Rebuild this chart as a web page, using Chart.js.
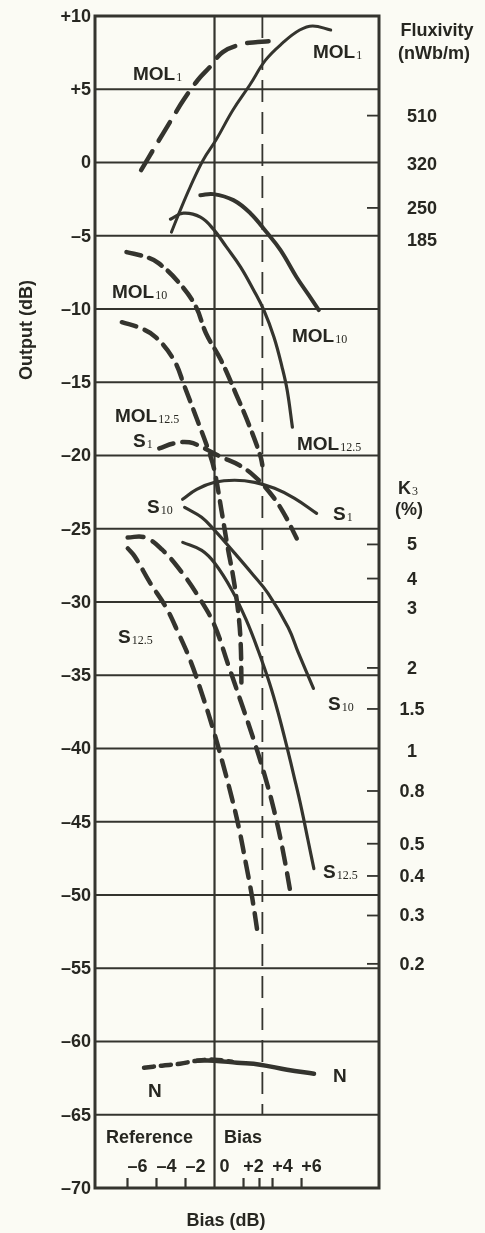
<!DOCTYPE html>
<html>
<head>
<meta charset="utf-8">
<script src="https://cdn.jsdelivr.net/npm/chart.js@4.4.1/dist/chart.umd.min.js"></script>
<style>
  html, body { margin: 0; padding: 0; background: #fbfbf4; }
  #wrap { width: 485px; height: 1233px; }
</style>
</head>
<body>
<div id="wrap"><canvas id="chart" width="485" height="1233"></canvas></div>
<script>
// Curves as [bias dB, output dB] pairs
const mol1Solid = [[-2.97,-4.75],[-2.36,-3.25],[-1.68,-1.68],[-0.79,0.16],[0.10,1.53],[1.27,3.58],[2.43,5.29],[3.53,7.0],[4.70,8.16],[5.87,9.04],[6.77,9.32],[8.01,9.04]];
const mol1Dashed = [[-5.06,-0.52],[-4.03,1.19],[-3.07,2.76],[-2.14,4.26],[-1.15,5.63],[-0.26,6.58],[0.57,7.54],[1.95,8.09],[2.98,8.22],[3.88,8.29]];
const mol10Solid = [[-0.98,-2.23],[-0.08,-2.16],[1.30,-2.57],[2.47,-3.46],[3.58,-4.75],[4.55,-5.98],[5.66,-7.83],[6.50,-9.06],[7.19,-10.08]];
const mol10Dashed = [[-6.07,-6.12],[-4.69,-6.46],[-3.86,-6.87],[-2.48,-8.17],[-1.30,-9.81],[-0.59,-11.65],[0.45,-13.5],[1.49,-15.82],[2.39,-17.94],[3.17,-20.05],[3.30,-20.67]];
const mol125Solid = [[-3.04,-3.87],[-2.15,-3.46],[-0.97,-3.73],[-0.08,-4.55],[0.83,-5.78],[1.80,-7.14],[2.70,-8.72],[3.40,-10.08],[4.10,-11.93],[4.66,-13.98],[5.01,-15.55],[5.37,-18.07]];
const mol125Dashed = [[-6.39,-10.9],[-5.08,-11.31],[-4.04,-11.93],[-2.79,-13.5],[-2.10,-15.2],[-1.26,-17.39],[-0.42,-19.64],[-0.01,-21.01],[0.49,-23.81],[0.92,-26.34],[1.27,-28.18],[1.62,-30.57],[1.80,-32.76],[1.86,-35.83]];
const s1Solid = [[-2.20,-22.99],[-1.23,-22.31],[0.01,-21.83],[1.39,-21.69],[2.77,-21.83],[4.14,-22.24],[5.52,-22.92],[7.04,-23.95]];
const s1Dashed = [[-3.81,-19.51],[-2.77,-19.17],[-1.74,-19.10],[-0.70,-19.51],[0.34,-20.05],[1.72,-20.67],[2.76,-21.42],[3.79,-22.51],[4.70,-23.81],[5.67,-25.66]];
const s10Solid = [[-2.06,-23.54],[-0.89,-24.22],[0.01,-25.11],[1.40,-26.68],[2.58,-28.05],[3.69,-29.41],[5.08,-31.74],[5.77,-33.44],[6.82,-35.9]];
const s10Dashed = [[-5.99,-25.59],[-4.81,-25.59],[-3.63,-26.41],[-2.25,-27.98],[-1.07,-29.69],[-0.03,-31.53],[0.95,-34.3],[1.85,-36.9],[2.70,-39.4],[3.45,-41.8],[4.10,-44.2],[4.70,-46.9],[5.30,-50.18]];
const s125Solid = [[-2.19,-25.93],[-0.88,-26.48],[0.02,-27.36],[1.21,-29.21],[2.20,-31.26],[3.01,-33.31],[3.80,-35.56],[4.40,-37.61],[5.00,-39.93],[5.50,-41.98],[5.98,-44.03],[6.45,-46.28],[6.85,-48.2]];
const s125Dashed = [[-5.98,-26.34],[-5.50,-26.89],[-4.46,-28.66],[-3.34,-30.37],[-2.51,-32.08],[-1.67,-33.99],[-0.83,-36.38],[-0.07,-38.77],[0.57,-41.02],[1.19,-43.35],[1.69,-45.46],[2.15,-47.79],[2.60,-50.2],[3.03,-52.98]];
const nSolid = [[-1.21,-61.31],[-0.03,-61.31],[1.55,-61.45],[3.14,-61.58],[5.0,-61.93],[6.86,-62.2]];
const nDashed = [[-4.86,-61.79],[-3.62,-61.65],[-2.38,-61.52],[-1.21,-61.31],[-0.03,-61.24],[1.21,-61.38]];

// Axes
const outputTicks = [10,5,0,-5,-10,-15,-20,-25,-30,-35,-40,-45,-50,-55,-60,-65,-70];
const outputTickLabels = ['+10','+5','0','–5','–10','–15','–20','–25','–30','–35','–40','–45','–50','–55','–60','–65','–70'];
const biasTicks = [-6,-4,-2,0,2,4,6];
const biasTickLabels = ['–6','–4','–2','0','+2','+4','+6'];
const biasTickMarks = [-6,-4,-2,2,3.1,4,6];
const refBias = 3.3;

// Right hand scales, at output level in dB
const fluxLabels = ['510','320','250','185'];
const fluxLevels = [3.2,-0.1,-3.1,-5.26];
const fluxHasTick = [true,false,true,false];
const k3Labels = ['5','4','3','2','1.5','1','0.8','0.5','0.4','0.3','0.2'];
const k3Levels = [-26.07,-28.4,-30.44,-34.5,-37.3,-40.14,-42.9,-46.5,-48.7,-51.4,-54.7];
const k3HasTick = [true,true,false,true,true,false,true,true,true,true,true];

const ink = '#34342e';
const textInk = '#272721';
const sans = '"Liberation Sans", Arial, Helvetica, sans-serif';
const serif = '"Liberation Serif", "Times New Roman", serif';
const boldFont = 'bold 18px ' + sans;

function pts(arr) {
  return arr.map(p => ({x: p[0], y: p[1]}));
}

function curve(data, width, dash) {
  return {
    data: pts(data),
    borderColor: ink,
    borderWidth: width,
    borderDash: dash || [],
    borderCapStyle: 'round',
    pointRadius: 0,
    tension: 0.4,
    fill: false
  };
}

// bold name with a small serif subscript
function label(ctx, x, y, main, sub, size) {
  ctx.font = 'bold ' + (size || 19) + 'px ' + sans;
  ctx.textAlign = 'left';
  ctx.textBaseline = 'alphabetic';
  ctx.fillText(main, x, y);
  if (sub) {
    var w = ctx.measureText(main).width;
    ctx.font = '12px ' + serif;
    ctx.fillText(sub, x + w + 1, y + 1);
  }
}

const frame = {
  id: 'frame',
  beforeDraw(chart) {
    var ctx = chart.ctx;
    ctx.save();
    ctx.fillStyle = '#fbfbf4';
    ctx.fillRect(0, 0, chart.width, chart.height);
    ctx.restore();
  },
  beforeDatasetsDraw(chart) {
    var ctx = chart.ctx, a = chart.chartArea;
    var xs = chart.scales.x, ys = chart.scales.y;
    ctx.save();
    ctx.strokeStyle = ink;
    ctx.lineWidth = 2.2;
    outputTicks.forEach(v => {
      var y = ys.getPixelForValue(v);
      ctx.beginPath();
      ctx.moveTo(a.left, y);
      ctx.lineTo(a.right, y);
      ctx.stroke();
    });
    var x0 = xs.getPixelForValue(0);
    ctx.beginPath();
    ctx.moveTo(x0, a.top);
    ctx.lineTo(x0, a.bottom);
    ctx.stroke();

    // reference bias line
    var xr = xs.getPixelForValue(refBias);
    ctx.lineWidth = 1.8;
    ctx.setLineDash([22, 10]);
    ctx.beginPath();
    ctx.moveTo(xr, a.top);
    ctx.lineTo(xr, ys.getPixelForValue(-65));
    ctx.stroke();
    ctx.restore();
  },
  afterDatasetsDraw(chart) {
    var ctx = chart.ctx, a = chart.chartArea;
    var xs = chart.scales.x, ys = chart.scales.y;
    ctx.save();
    ctx.strokeStyle = ink;
    ctx.lineWidth = 3;
    ctx.strokeRect(a.left, a.top, a.right - a.left, a.bottom - a.top);

    // bias ticks, pointing up from the bottom
    ctx.lineWidth = 2.2;
    biasTickMarks.forEach(b => {
      var x = xs.getPixelForValue(b);
      ctx.beginPath();
      ctx.moveTo(x, a.bottom);
      ctx.lineTo(x, a.bottom - 10);
      ctx.stroke();
    });

    // right hand ticks, pointing in
    ctx.lineWidth = 1.8;
    fluxLevels.concat(k3Levels).forEach((v, i) => {
      var has = i < fluxLevels.length ? fluxHasTick[i] : k3HasTick[i - fluxLevels.length];
      if (!has) return;
      var y = ys.getPixelForValue(v);
      ctx.beginPath();
      ctx.moveTo(a.right, y);
      ctx.lineTo(a.right - 12, y);
      ctx.stroke();
    });

    ctx.fillStyle = textInk;
    ctx.font = boldFont;
    ctx.textBaseline = 'middle';

    // left output labels
    ctx.textAlign = 'right';
    outputTicks.forEach((v, i) => {
      ctx.fillText(outputTickLabels[i], a.left - 4, ys.getPixelForValue(v) + 1);
    });

    // bias labels inside the plot
    ctx.textAlign = 'center';
    biasTicks.forEach((b, i) => {
      ctx.fillText(biasTickLabels[i], xs.getPixelForValue(b) + 10, a.bottom - 21);
    });

    // right hand labels
    fluxLabels.forEach((t, i) => {
      ctx.fillText(t, 422, ys.getPixelForValue(fluxLevels[i]) + 1);
    });
    k3Labels.forEach((t, i) => {
      ctx.fillText(t, 412, ys.getPixelForValue(k3Levels[i]) + 1);
    });
    ctx.fillText('Fluxivity', 437, 31);
    ctx.fillText('(nWb/m)', 434, 54);
    ctx.fillText('(%)', 409, 510);

    // axis titles
    ctx.fillText('Bias (dB)', 226, 1221);
    ctx.save();
    ctx.translate(27, 330);
    ctx.rotate(-Math.PI / 2);
    ctx.fillText('Output (dB)', 0, 0);
    ctx.restore();

    label(ctx, 398, 494, 'K', '3', 18);

    // curve names
    label(ctx, 133, 80, 'MOL', '1');
    label(ctx, 313, 58, 'MOL', '1');
    label(ctx, 112, 298, 'MOL', '10');
    label(ctx, 292, 342, 'MOL', '10');
    label(ctx, 115, 422, 'MOL', '12.5');
    label(ctx, 297, 450, 'MOL', '12.5');
    label(ctx, 133, 447, 'S', '1');
    label(ctx, 333, 520, 'S', '1');
    label(ctx, 147, 513, 'S', '10');
    label(ctx, 328, 710, 'S', '10');
    label(ctx, 118, 643, 'S', '12.5');
    label(ctx, 323, 878, 'S', '12.5');
    label(ctx, 148, 1097, 'N');
    label(ctx, 333, 1082, 'N');
    label(ctx, 106, 1143, 'Reference', null, 18);
    label(ctx, 224, 1143, 'Bias', null, 18);
    ctx.restore();
  }
};

new Chart(document.getElementById('chart'), {
  type: 'line',
  data: {
    datasets: [
      curve(mol1Solid, 3),
      curve(mol1Dashed, 4.5, [22, 12]),
      curve(mol10Solid, 4),
      curve(mol10Dashed, 4.5, [15, 8]),
      curve(mol125Solid, 3.2),
      curve(mol125Dashed, 4.5, [15, 9]),
      curve(s1Solid, 3.2),
      curve(s1Dashed, 4.5, [15, 9]),
      curve(s10Solid, 3.2),
      curve(s10Dashed, 4.5, [16, 10]),
      curve(s125Solid, 3.2),
      curve(s125Dashed, 4.5, [16, 10]),
      curve(nSolid, 4.5),
      curve(nDashed, 4.5, [10, 7])
    ]
  },
  options: {
    responsive: false,
    animation: false,
    events: [],
    devicePixelRatio: 1,
    layout: { padding: { left: 95, right: 106, top: 16, bottom: 45 } },
    plugins: { legend: { display: false }, tooltip: { enabled: false } },
    scales: {
      x: { type: 'linear', display: false, min: -8.24, max: 11.34 },
      y: { type: 'linear', display: false, min: -70, max: 10 }
    }
  },
  plugins: [frame]
});
</script>
</body>
</html>
